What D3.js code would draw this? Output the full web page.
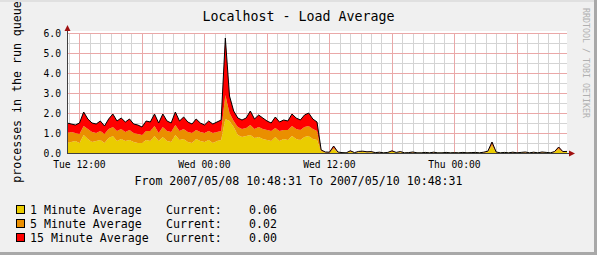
<!DOCTYPE html>
<html>
<head>
<meta charset="utf-8">
<script src="https://cdn.jsdelivr.net/npm/d3@7"></script>
<style>
body { margin: 0; background: #f0f0f0; }
svg text { font-family: "DejaVu Sans Mono", monospace; }
</style>
</head>
<body>
<svg id="chart" width="597" height="255"></svg>
<script>
'use strict'

// samples every 24 minutes from 2007/05/08 10:48:31 (UTC), 121 points
let load1 = [0.50,0.55,0.60,0.50,0.90,0.70,0.55,0.60,0.65,0.50,0.75,0.85,0.60,0.70,0.60,0.65,0.55,0.50,0.50,0.65,
	0.60,0.85,0.60,0.80,0.60,0.55,0.90,0.65,0.70,0.55,0.50,0.70,0.60,0.55,0.65,0.50,0.60,0.65,1.70,1.60,
	1.30,0.90,0.80,0.85,0.90,0.75,0.80,0.70,0.65,0.60,0.80,0.60,0.70,0.65,0.85,0.70,0.65,0.80,0.85,0.70,
	0.65,0.08,0.03,0.02,0.20,0.03,0.01,0.01,0.06,0.01,0.04,0.05,0.03,0.04,0.01,0.02,0.01,0.02,0.06,0.02,
	0.04,0.01,0.01,0.03,0.01,0.01,0.02,0.01,0.02,0.01,0.01,0.02,0.01,0.01,0.01,0.02,0.01,0.01,0.02,0.01,
	0.02,0.05,0.35,0.03,0.01,0.02,0.01,0.02,0.01,0.02,0.03,0.01,0.02,0.01,0.03,0.02,0.01,0.04,0.18,0.04,
	0.06]
let load5 = [0.50,0.50,0.40,0.45,0.45,0.50,0.50,0.40,0.45,0.45,0.45,0.45,0.50,0.50,0.45,0.50,0.45,0.45,0.40,0.45,
	0.50,0.50,0.40,0.50,0.50,0.50,0.50,0.45,0.50,0.50,0.50,0.45,0.45,0.45,0.45,0.50,0.45,0.45,1.20,0.40,
	0.30,0.40,0.40,0.40,0.50,0.45,0.50,0.50,0.50,0.50,0.45,0.50,0.45,0.50,0.50,0.50,0.50,0.50,0.50,0.50,
	0.45,0.04,0.01,0.01,0.08,0.01,0.01,0.00,0.03,0.01,0.02,0.02,0.02,0.02,0.01,0.01,0.00,0.01,0.03,0.01,
	0.02,0.00,0.01,0.01,0.00,0.00,0.01,0.00,0.01,0.00,0.00,0.01,0.00,0.01,0.00,0.01,0.00,0.01,0.01,0.00,
	0.01,0.02,0.12,0.01,0.00,0.01,0.00,0.01,0.00,0.01,0.01,0.00,0.01,0.00,0.01,0.01,0.00,0.02,0.07,0.02,
	0.02]
let load15 = [0.50,0.40,0.40,0.55,0.70,0.50,0.45,0.45,0.50,0.40,0.50,0.65,0.50,0.55,0.50,0.55,0.45,0.45,0.40,0.50,
	0.45,0.60,0.50,0.65,0.50,0.45,0.65,0.50,0.60,0.50,0.45,0.55,0.45,0.40,0.50,0.45,0.50,0.55,2.85,0.85,
	0.50,0.45,0.45,0.50,0.70,0.50,0.60,0.55,0.45,0.40,0.55,0.45,0.50,0.45,0.60,0.55,0.50,0.60,0.65,0.50,
	0.45,0.03,0.01,0.01,0.07,0.01,0.00,0.00,0.02,0.00,0.02,0.02,0.01,0.01,0.00,0.01,0.00,0.00,0.02,0.00,
	0.01,0.00,0.00,0.01,0.00,0.00,0.00,0.00,0.01,0.00,0.00,0.00,0.00,0.00,0.00,0.00,0.00,0.00,0.00,0.00,
	0.01,0.02,0.08,0.01,0.00,0.00,0.00,0.01,0.00,0.00,0.01,0.00,0.01,0.00,0.01,0.00,0.00,0.01,0.05,0.01,
	0.00]

let seriesNames = ["1 Minute Average", "5 Minute Average", "15 Minute Average"]
let seriesColors = ["#eacc00", "#ea8f00", "#ff0000"]
let currentValues = ["0.06", "0.02", "0.00"]

let startTime = Date.UTC(2007, 4, 8, 10, 48, 31)
let endTime = Date.UTC(2007, 4, 10, 10, 48, 31)
let stepMs = 24 * 60 * 1000

const svg = d3.select("#chart")
const W = 597, H = 255

// frame
svg.append("rect").attr("width", W).attr("height", H).attr("fill", "#f0f0f0")
svg.append("rect").attr("x", W - 3).attr("width", 3).attr("height", H).attr("fill", "#a8a8a8")
svg.append("rect").attr("y", H - 3).attr("width", W).attr("height", 3).attr("fill", "#a8a8a8")
svg.append("rect").attr("width", W - 3).attr("height", 2).attr("fill", "#e0e0e0")

let x = d3.scaleUtc().domain([startTime, endTime]).range([67, 567])
let y = d3.scaleLinear().domain([0, 6]).range([153, 33])

svg.append("rect").attr("x", 67).attr("y", 31).attr("width", 500).attr("height", 122).attr("fill", "#fff")

let grid = svg.append("g").attr("shape-rendering", "crispEdges")

// minor grid
grid.selectAll(".vmin").data(x.ticks(d3.utcHour.every(1))).enter().append("line")
	.attr("x1", d => Math.round(x(d)) + 0.5).attr("x2", d => Math.round(x(d)) + 0.5)
	.attr("y1", 33).attr("y2", 153).attr("stroke", "#d4d4d4")
grid.selectAll(".hmin").data(y.ticks(12)).enter().append("line")
	.attr("y1", d => y(d) + 0.5).attr("y2", d => y(d) + 0.5)
	.attr("x1", 67).attr("x2", 567).attr("stroke", "#d4d4d4")
// major grid
grid.selectAll(".vmaj").data(x.ticks(d3.utcHour.every(6))).enter().append("line")
	.attr("x1", d => Math.round(x(d)) + 0.5).attr("x2", d => Math.round(x(d)) + 0.5)
	.attr("y1", 33).attr("y2", 153).attr("stroke", "#eaa8a8")
grid.selectAll(".hmaj").data(y.ticks(6)).enter().append("line")
	.attr("y1", d => y(d) + 0.5).attr("y2", d => y(d) + 0.5)
	.attr("x1", 67).attr("x2", 567).attr("stroke", "#eaa8a8")

// data table
let rows = load1.map(function(v, i){
	return {t: startTime + i * stepMs, load1: v, load5: load5[i], load15: load15[i]}
})
let stacked = d3.stack().keys(["load1", "load5", "load15"])(rows)

let area = d3.area()
	.x(d => x(d.data.t))
	.y0(d => y(d[0]))
	.y1(d => y(d[1]))

svg.selectAll(".layer").data(stacked).enter().append("path")
	.attr("d", area)
	.attr("fill", (d, i) => seriesColors[i])

let topLine = d3.line()
	.x(d => x(d.data.t))
	.y(d => y(d[1]))
svg.append("path").datum(stacked[2])
	.attr("d", topLine)
	.attr("fill", "none")
	.attr("stroke", "#000")
	.attr("stroke-width", 1)

// axes
let axes = svg.append("g").attr("shape-rendering", "crispEdges")
axes.append("line").attr("x1", 67.5).attr("x2", 67.5).attr("y1", 153).attr("y2", 30).attr("stroke", "#404040")
axes.append("line").attr("x1", 67).attr("x2", 570).attr("y1", 153.5).attr("y2", 153.5).attr("stroke", "#404040")
svg.append("path").attr("d", "M64.5,31 L67.5,25 L70.5,31 Z").attr("fill", "#a01010")
svg.append("path").attr("d", "M569,150.5 L575,153.5 L569,156.5 Z").attr("fill", "#a01010")

// tick labels
svg.selectAll(".ylab").data(y.ticks(6)).enter().append("text")
	.attr("x", 61).attr("y", d => y(d) + 3.5)
	.attr("text-anchor", "end").attr("font-size", "9.7px").attr("fill", "#000")
	.text(d3.format(".1f"))

let fmt = d3.utcFormat("%a %H:%M")
svg.selectAll(".xlab").data(x.ticks(d3.utcHour.every(12))).enter().append("text")
	.attr("x", d => x(d)).attr("y", 168)
	.attr("text-anchor", "middle").attr("font-size", "9.7px").attr("fill", "#000")
	.text(d => fmt(d))

// titles
svg.append("text").attr("x", 298.5).attr("y", 21).attr("text-anchor", "middle")
	.attr("font-size", "13.3px").attr("fill", "#000").text("Localhost - Load Average")

let dfmt = d3.utcFormat("%Y/%m/%d %H:%M:%S")
svg.append("text").attr("x", 298.5).attr("y", 185).attr("text-anchor", "middle")
	.attr("font-size", "11.6px").attr("fill", "#000")
	.text("From " + dfmt(new Date(startTime)) + " To " + dfmt(new Date(endTime)))

svg.append("text").attr("transform", "translate(21,92) rotate(-90)")
	.attr("text-anchor", "middle").attr("font-size", "11.6px").attr("fill", "#000")
	.text("processes in the run queue")

svg.append("text").attr("transform", "translate(583,8) rotate(90)")
	.attr("text-anchor", "start").attr("font-size", "8.3px").attr("fill", "#b0b0b0")
	.text("RRDTOOL / TOBI OETIKER")

// legend
let legend = svg.selectAll(".leg").data(seriesNames).enter().append("g")
	.attr("transform", (d, i) => "translate(0," + (210 + i * 14) + ")")
legend.append("rect").attr("x", 16.5).attr("y", -4.5).attr("width", 8).attr("height", 8)
	.attr("fill", (d, i) => seriesColors[i]).attr("stroke", "#000")
legend.append("text").attr("x", 30).attr("y", 4).attr("font-size", "11.6px").attr("fill", "#000").text(d => d)
legend.append("text").attr("x", 166).attr("y", 4).attr("font-size", "11.6px").attr("fill", "#000").text("Current:")
legend.append("text").attr("x", 277).attr("y", 4).attr("text-anchor", "end")
	.attr("font-size", "11.6px").attr("fill", "#000").text((d, i) => currentValues[i])
</script>
</body>
</html>
